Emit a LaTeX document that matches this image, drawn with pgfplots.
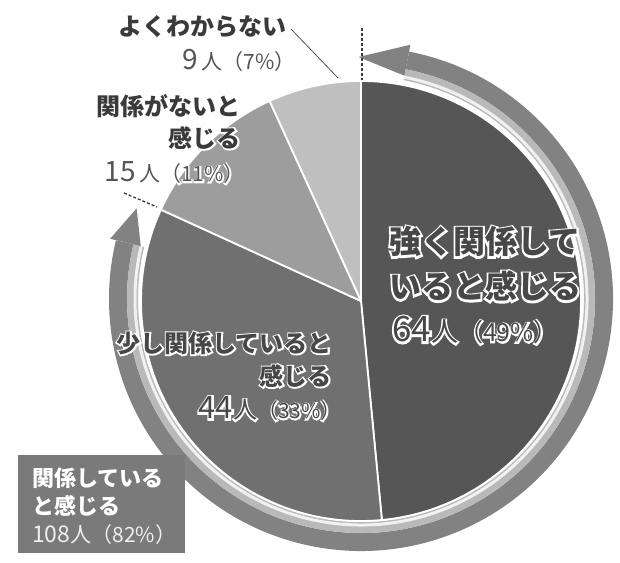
\documentclass[border=0pt]{standalone}
\usepackage{pgfplots}
\pgfplotsset{compat=1.18}
\usepackage{fontspec}
\newfontfamily\jp{Noto Sans CJK JP}
\definecolor{wA}{HTML}{565656}
\definecolor{wB}{HTML}{707070}
\definecolor{wC}{HTML}{9D9D9D}
\definecolor{wD}{HTML}{BFBFBF}
\definecolor{ringD}{HTML}{828282}
\definecolor{ringL}{HTML}{B9B9B9}
\definecolor{boxC}{HTML}{7A7A7A}
\definecolor{txt}{HTML}{3A3A3A}
\definecolor{intxt}{HTML}{474747}
\definecolor{numc}{HTML}{555555}
\newcommand\lab{\jp\bfseries\fontsize{24bp}{33bp}\selectfont}
\newcommand\labL{\jp\bfseries\fontsize{32bp}{44bp}\selectfont}
\newcommand\fs[1]{\fontsize{#1bp}{#1bp}\selectfont}
% text with a white halo: a white emboldened copy below the text
\newcommand\halonode[4]{%
  \node[#2,text=white,font=#3\addfontfeature{FakeBold=12}] at (#1) {#4};
  \node[#2,font=#3] at (#1) {#4};}
\begin{document}
\begin{tikzpicture}
\path[use as bounding box] (0,0) rectangle (620bp,563bp);
% pie angles computed from the counts
\pgfmathsetmacro\tot{64+44+15+9}
\pgfmathsetmacro\aA{90}
\pgfmathsetmacro\aB{\aA-64/\tot*360}
\pgfmathsetmacro\aC{\aB-44/\tot*360}
\pgfmathsetmacro\aD{\aC-15/\tot*360}
\pgfmathsetmacro\aE{\aD-9/\tot*360}
% outer ring with arrows (82% = first two slices)
\begin{scope}[x=1bp,y=-1bp,yshift=563bp]
  \coordinate (rc) at (361,299);
  \draw[ringD, line width=18bp] ([shift={(79:243bp)}]rc) arc[start angle=79, end angle=-193.5, radius=243bp];
  \draw[ringL, line width=11bp] ([shift={(79:228.5bp)}]rc) arc[start angle=79, end angle=-193.5, radius=228.5bp];
  \draw[white!80!ringL, line width=3bp] ([shift={(79:226bp)}]rc) arc[start angle=79, end angle=-193.5, radius=226bp];
  \fill[ringD] ([shift={(79:227.5bp)}]rc) -- ([shift={(79:259bp)}]rc) -- ([shift={(90.6:242bp)}]rc) -- cycle;
  \fill[ringD] ([shift={(166.5:226.5bp)}]rc) -- ([shift={(166.5:258bp)}]rc) -- ([shift={(158:242bp)}]rc) -- cycle;
\end{scope}
\begin{axis}[at={(0,0)}, anchor=south west, width=620bp, height=563bp, scale only axis,
  xmin=0, xmax=620, ymin=0, ymax=563, y dir=reverse, hide axis, clip=false]
\fill[wA, draw=white, line width=1.8bp, line join=round] (axis cs:361,301) -- +(\aA:220bp) arc[start angle=\aA, end angle=\aB, radius=220bp] -- cycle;
\fill[wB, draw=white, line width=1.8bp, line join=round] (axis cs:361,301) -- +(\aB:220bp) arc[start angle=\aB, end angle=\aC, radius=220bp] -- cycle;
\fill[wC, draw=white, line width=1.8bp, line join=round] (axis cs:361,301) -- +(\aC:220bp) arc[start angle=\aC, end angle=\aD, radius=220bp] -- cycle;
\fill[wD, draw=white, line width=1.8bp, line join=round] (axis cs:361,301) -- +(\aD:220bp) arc[start angle=\aD, end angle=\aE, radius=220bp] -- cycle;
\end{axis}
\begin{scope}[x=1bp,y=-1bp,yshift=563bp]
  % dashed guides and leader
  \draw[txt, line width=1.3bp, dash pattern=on 3bp off 2bp] (362,28) -- (362,80);
  \draw[txt, line width=1.3bp, dash pattern=on 3bp off 2bp] (124,193) -- (157,207);
  \draw[numc, line width=0.8bp] (291,29) -- (338,78);
  % labels outside
  \halonode{287,35.5}{anchor=base east, inner sep=0, text=txt}{\lab}{よくわからない}
  \halonode{296,70}{anchor=base east, inner sep=0, text=numc}{\jp}{{\fs{28}9}\,\,{\fs{21}人（7\%）}}
  \halonode{241,115.5}{anchor=base east, inner sep=0, text=txt}{\lab}{関係がないと}
  \halonode{241,147.5}{anchor=base east, inner sep=0, text=txt}{\lab}{感じる}
  \halonode{245,182}{anchor=base east, inner sep=0, text=numc}{\jp}{{\fs{28}15}\,\,{\fs{21}人（11\%）}}
  % wedge 2
  \halonode{332,352.5}{anchor=base east, inner sep=0, text=intxt}{\lab}{少し関係していると}
  \halonode{332,385.5}{anchor=base east, inner sep=0, text=intxt}{\lab}{感じる}
  \halonode{342,419}{anchor=base east, inner sep=0, text=intxt}{\jp}{{\fs{31}44}{\fs{24}人}{\fs{21}（33\%）}}
  % wedge 1
  \halonode{389,254}{anchor=base west, inner sep=0, text=intxt}{\labL}{強く関係して}
  \halonode{389,299}{anchor=base west, inner sep=0, text=intxt}{\labL}{いると感じる}
  \halonode{392,342}{anchor=base west, inner sep=0, text=intxt}{\jp}{{\fs{35}64}{\fs{27}人}{\fs{25}（49\%）}}
  % summary box
  \fill[boxC] (18,455) rectangle (185,553);
  \node[anchor=base west, inner sep=0, text=white, font=\jp\bfseries\fs{22}] at (32,487) {関係している};
  \node[anchor=base west, inner sep=0, text=white, font=\jp\bfseries\fs{22}] at (32,515) {と感じる};
  \node[anchor=base west, inner sep=0, text=white!88!boxC, font=\jp] at (32,543) {{\fs{23}108}{\fs{21}人（82\%）}};
\end{scope}
\end{tikzpicture}
\end{document}
